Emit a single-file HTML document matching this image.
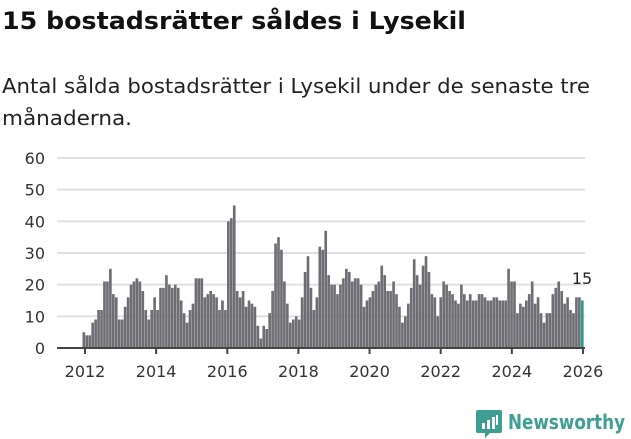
<!DOCTYPE html>
<html><head><meta charset="utf-8"><style>
body{margin:0;width:631px;height:439px;background:#fff;overflow:hidden;font-family:"DejaVu Sans","Liberation Sans",sans-serif;color:#111}
</style></head><body>
<svg id="c" width="631" height="439" style="position:absolute;left:0;top:0" font-family="DejaVu Sans, Liberation Sans, sans-serif"></svg>
<script>
var v=[5,4,4,8,9,12,12,21,21,25,17,16,
9,9,13,16,20,21,22,21,18,12,9,12,
16,12,19,19,23,20,19,20,19,15,11,8,
12,14,22,22,22,16,17,18,17,16,12,15,
12,40,41,45,18,16,18,13,15,14,13,7,
3,7,6,11,18,33,35,31,21,14,8,9,
10,9,16,24,29,19,12,16,32,31,37,23,
20,20,17,20,22,25,24,21,22,22,20,13,
15,16,18,20,21,26,23,18,18,21,17,13,
8,10,14,19,28,23,20,26,29,24,17,16,
10,16,21,20,18,17,15,14,20,17,15,17,
15,15,17,17,16,15,15,16,16,15,15,15,
25,21,21,11,14,13,15,17,21,14,16,11,
8,11,11,17,19,21,18,14,16,12,11,16,
16,15];
var s='';
s+='<text x="2" y="29" font-size="24" font-weight="bold" fill="#111" textLength="464" lengthAdjust="spacingAndGlyphs">15 bostadsrätter såldes i Lysekil</text>';
s+='<text x="2" y="93" font-size="20" fill="#222" textLength="588" lengthAdjust="spacingAndGlyphs">Antal sålda bostadsrätter i Lysekil under de senaste tre</text>';
s+='<text x="2" y="125" font-size="20" fill="#222" textLength="130" lengthAdjust="spacingAndGlyphs">månaderna.</text>';
for(var i=0;i<=6;i++){var y=348-i*31.67;
 if(i>0)s+='<line x1="57" x2="585" y1="'+y+'" y2="'+y+'" stroke="#e0e0e0" stroke-width="2"/>';
 s+='<text x="45" y="'+(y+6)+'" text-anchor="end" font-size="16" fill="#333">'+(i*10)+'</text>';}
var x0=82.5,w=(581-82.5)/(v.length-1);
for(var j=0;j<v.length;j++){var h=v[j]*3.167;var last=j==v.length-1;
 s+='<rect x="'+(x0+j*w).toFixed(2)+'" y="'+(348-h).toFixed(2)+'" width="'+(w-0.3).toFixed(2)+'" height="'+h.toFixed(2)+'" fill="'+(last?'#2a9d8f':'#6e6d73')+'"/>';}
s+='<line x1="57" x2="585" y1="348" y2="348" stroke="#444" stroke-width="2"/>';
for(var k=0;k<8;k++){var x=85+k*71.14;
 s+='<line x1="'+x+'" x2="'+x+'" y1="348" y2="354" stroke="#444" stroke-width="2"/>';
 s+='<text x="'+x+'" y="377" text-anchor="middle" font-size="16" fill="#333">'+(2012+2*k)+'</text>';}
s+='<text x="582" y="284" text-anchor="middle" font-size="16" fill="#222">15</text>';
s+='<g transform="translate(476,410)"><path d="M2 0h22a2 2 0 0 1 2 2v19a2 2 0 0 1-2 2h-10l-5 5v-5h-7a2 2 0 0 1-2-2v-19a2 2 0 0 1 2-2z" fill="#3e9e92"/>'+
'<rect x="6" y="13" width="3" height="6" fill="#fff"/><rect x="11" y="10" width="3" height="9" fill="#fff"/><rect x="16" y="7" width="3" height="12" fill="#fff"/><rect x="20" y="5" width="2" height="10" fill="#fff"/></g>';
s+='<text x="508" y="429" font-size="20" font-weight="bold" fill="#3e9e92" textLength="117" lengthAdjust="spacingAndGlyphs">Newsworthy</text>';
document.getElementById('c').innerHTML=s;
</script>
</body></html>
